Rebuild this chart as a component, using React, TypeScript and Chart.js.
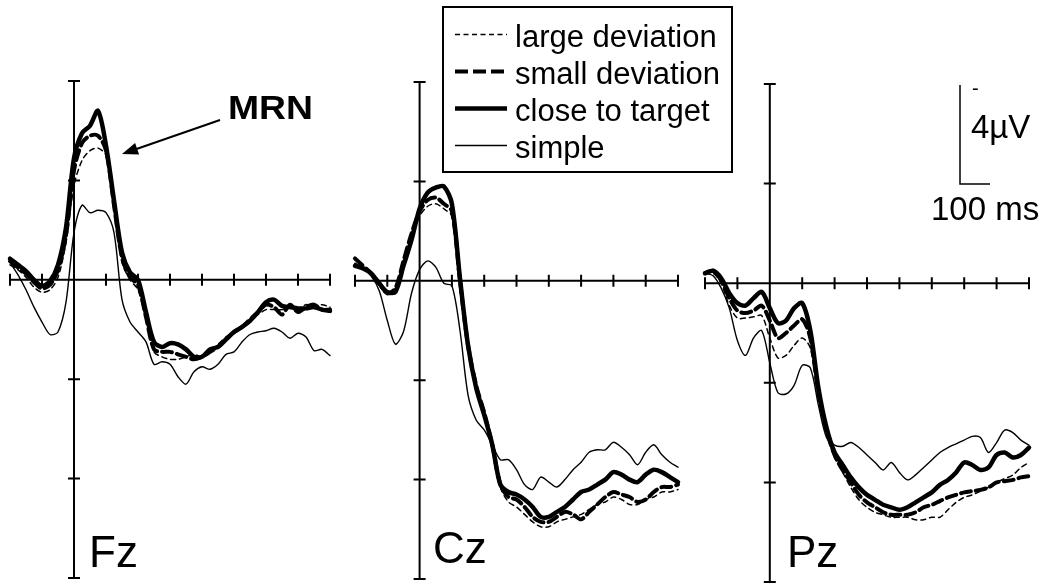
import React, { useEffect, useRef } from "react";
import { Chart, registerables } from "chart.js";

Chart.register(...registerables);

// Time axis (ms, response at 0) and tick positions
const times = [
  -200, -175, -150, -125, -100, -75, -50, -25, 0, 25, 50, 75, 100, 125, 150, 175, 200, 225, 250, 275, 300,
  325, 350, 375, 400, 425, 450, 475, 500, 525, 550, 575, 600, 625, 650, 675, 700, 725, 750, 775, 800,
];
const timeTicks = [-200, -100, 0, 100, 200, 300, 400, 500, 600, 700, 800];
const voltTicks = [-8, -4, 0, 4, 8, 12];

const conditions = ["large deviation", "small deviation", "close to target", "simple"];
const electrodes = ["Fz", "Cz", "Pz"];

// Grand-average amplitudes in µV (negative plotted upward)
const fzLarge = [-0.6, -0.4, -0.1, 0.3, 0.5, 0.4, -0.1, -1.5, -3.8, -4.8, -5.2, -5.3, -5.0, -2.8, -0.7, 0.0, 0.4, 1.6, 2.9, 3.1, 3.2, 3.2, 3.1, 3.0, 3.1, 2.9, 2.6, 2.3, 2.1, 1.9, 1.6, 1.4, 1.2, 1.2, 1.2, 1.1, 1.2, 1.0, 1.1, 1.0, 1.1];
const fzSmall = [-0.75, -0.5, -0.25, 0.1, 0.35, 0.2, -0.4, -1.8, -4.4, -5.5, -5.8, -5.8, -5.2, -3.0, -0.9, -0.1, 0.2, 1.5, 2.8, 2.9, 2.9, 3.0, 3.1, 3.2, 3.1, 2.9, 2.7, 2.4, 2.1, 1.9, 1.6, 1.3, 1.0, 1.1, 1.4, 1.0, 1.3, 1.1, 1.0, 1.2, 1.2];
const fzClose = [-0.85, -0.6, -0.35, 0.0, 0.25, 0.05, -0.6, -2.1, -4.9, -5.9, -6.2, -6.8, -5.4, -3.2, -1.1, -0.3, 0.0, 1.3, 2.5, 2.7, 2.55, 2.6, 2.8, 3.1, 3.1, 2.8, 2.7, 2.4, 2.1, 1.9, 1.65, 1.3, 0.9, 0.8, 1.05, 1.1, 1.15, 1.15, 1.1, 1.2, 1.25];
const fzSimple = [-0.7, -0.2, 0.4, 1.1, 1.7, 2.2, 2.1, 0.9, -1.9, -3.0, -2.7, -2.8, -2.7, -1.9, 0.8, 1.7, 2.1, 2.5, 3.4, 3.3, 3.4, 3.9, 4.2, 3.7, 3.5, 3.6, 3.4, 3.0, 2.9, 2.5, 2.2, 2.1, 2.05, 1.95, 2.1, 2.35, 2.15, 2.3, 2.85, 2.8, 3.05];

const czLarge = [-0.7, -0.5, -0.2, 0.2, 0.55, 0.3, -0.7, -1.7, -2.6, -3.0, -3.1, -2.9, -2.6, 0.1, 2.7, 4.3, 5.4, 6.7, 8.3, 8.9, 9.1, 9.4, 9.7, 9.9, 9.9, 9.7, 9.6, 9.5, 9.4, 9.2, 9.0, 8.9, 8.7, 8.8, 9.0, 9.0, 8.8, 8.7, 8.5, 8.5, 8.4];
const czSmall = [-0.9, -0.6, -0.3, 0.1, 0.5, 0.3, -0.8, -1.9, -2.8, -3.25, -3.35, -3.1, -2.8, 0.0, 2.6, 4.2, 5.3, 6.6, 8.2, 8.7, 8.8, 9.1, 9.5, 9.7, 9.7, 9.5, 9.3, 9.4, 9.6, 9.3, 9.0, 8.7, 8.5, 8.6, 8.7, 8.9, 8.8, 8.5, 8.3, 8.3, 8.2];
const czClose = [-0.6, -0.5, -0.3, 0.1, 0.45, 0.45, -0.6, -1.65, -2.9, -3.55, -3.75, -3.8, -3.1, -0.1, 2.6, 4.3, 5.4, 6.6, 8.2, 8.5, 8.6, 8.8, 9.1, 9.5, 9.5, 9.3, 9.1, 8.8, 8.5, 8.4, 8.2, 8.0, 7.7, 7.8, 8.0, 8.1, 7.8, 7.6, 7.7, 7.9, 8.1];
const czSimple = [-0.7, -0.5, -0.2, 0.4, 1.6, 2.55, 2.05, 0.5, -0.45, -0.8, -0.55, 0.1, 0.2, 2.0, 4.6, 5.6, 6.0, 6.6, 7.2, 7.2, 7.6, 8.2, 8.4, 7.9, 8.1, 8.3, 8.0, 7.6, 7.3, 6.9, 6.8, 6.8, 6.5, 6.7, 7.0, 7.4, 6.9, 6.6, 7.0, 7.3, 7.5];

const pzLarge = [-0.4, -0.4, 0.0, 0.9, 1.4, 1.4, 1.35, 1.3, 2.2, 3.0, 2.9, 2.5, 2.2, 2.6, 4.6, 6.0, 7.0, 7.6, 8.2, 8.7, 9.0, 9.2, 9.3, 9.4, 9.4, 9.4, 9.5, 9.5, 9.4, 9.4, 9.1, 8.8, 8.6, 8.5, 8.35, 8.2, 8.0, 7.85, 7.7, 7.4, 7.2];
const pzSmall = [-0.4, -0.5, -0.1, 0.6, 1.1, 1.2, 1.1, 0.9, 1.5, 2.2, 2.0, 1.7, 1.45, 2.2, 4.4, 5.9, 6.9, 7.5, 8.0, 8.5, 8.8, 9.0, 9.2, 9.3, 9.3, 9.3, 9.2, 9.0, 8.9, 8.75, 8.6, 8.5, 8.4, 8.35, 8.3, 8.2, 8.0, 7.95, 7.9, 7.8, 7.75];
const pzClose = [-0.4, -0.5, -0.2, 0.4, 0.8, 0.9, 0.6, 0.35, 1.0, 1.6, 1.5, 1.0, 0.8, 1.9, 4.2, 5.8, 6.8, 7.3, 7.8, 8.2, 8.5, 8.7, 8.9, 9.0, 9.1, 9.0, 8.8, 8.6, 8.4, 8.1, 7.9, 7.6, 7.2, 7.3, 7.5, 7.4, 6.9, 6.8, 7.0, 6.9, 6.6];
const pzSimple = [-0.4, -0.3, 0.2, 1.0, 2.3, 2.9, 2.2, 1.9, 3.2, 4.4, 4.45, 4.1, 3.3, 3.4, 4.9, 6.2, 6.5, 6.55, 6.4, 6.6, 6.9, 7.2, 7.5, 7.2, 7.6, 7.9, 7.7, 7.4, 7.1, 6.8, 6.6, 6.45, 6.3, 6.15, 6.2, 6.8, 6.4, 5.9, 6.0, 6.3, 6.5];

const panelSeries = [
  [fzLarge, fzSmall, fzClose, fzSimple],
  [czLarge, czSmall, czClose, czSimple],
  [pzLarge, pzSmall, pzClose, pzSimple],
];

// Line appearance per condition
const lineStyles = [
  { width: 1.5, dash: [5, 4], order: 2 },
  { width: 4, dash: [10, 5], order: 1 },
  { width: 4.5, dash: [] as number[], order: 0 },
  { width: 1.4, dash: [] as number[], order: 3 },
];

// Plot areas of the three electrode panels (page pixels)
const PAD = 12;
const panelBoxes = [
  { left: 10, right: 330, top: 81, bottom: 578 },
  { left: 355, right: 678, top: 82, bottom: 579 },
  { left: 705, right: 1029, top: 84, bottom: 582 },
];
const labelPos = [
  { x: 89, y: 567 },
  { x: 433, y: 563 },
  { x: 787, y: 567 },
];

const FONT = "'Liberation Sans', Arial, Helvetica, sans-serif";

// Axes crossing at (0 ms, 0 µV) with ticks through the line
const crossedAxes = {
  id: "crossedAxes",
  beforeDatasetsDraw(chart: any) {
    const { ctx } = chart;
    const xs = chart.scales.x;
    const ys = chart.scales.y;
    const x0 = xs.getPixelForValue(0);
    const y0 = ys.getPixelForValue(0);
    const t = 6;
    ctx.save();
    ctx.strokeStyle = "#000";
    ctx.lineWidth = 2;
    ctx.beginPath();
    ctx.moveTo(xs.getPixelForValue(timeTicks[0]), y0);
    ctx.lineTo(xs.getPixelForValue(timeTicks[timeTicks.length - 1]), y0);
    ctx.moveTo(x0, ys.getPixelForValue(voltTicks[0]));
    ctx.lineTo(x0, ys.getPixelForValue(voltTicks[voltTicks.length - 1]));
    for (const tv of timeTicks) {
      const px = xs.getPixelForValue(tv);
      ctx.moveTo(px, y0 - t);
      ctx.lineTo(px, y0 + t);
    }
    for (const vv of voltTicks) {
      const py = ys.getPixelForValue(vv);
      ctx.moveTo(x0 - t, py);
      ctx.lineTo(x0 + t, py);
    }
    ctx.stroke();
    ctx.restore();
  },
};

function ErpPanel({ index }: { index: number }) {
  const ref = useRef<HTMLCanvasElement | null>(null);
  const box = panelBoxes[index];
  const w = box.right - box.left + 2 * PAD;
  const h = box.bottom - box.top + 2 * PAD;

  useEffect(() => {
    if (!ref.current) return;
    const series = panelSeries[index];
    const chart = new Chart(ref.current, {
      type: "line",
      data: {
        datasets: series.map((vals, i) => ({
          label: conditions[i],
          data: times.map((t, k) => ({ x: t, y: vals[k] })),
          borderColor: "#000",
          backgroundColor: "#000",
          borderWidth: lineStyles[i].width,
          borderDash: lineStyles[i].dash,
          borderCapStyle: "round",
          borderJoinStyle: "round",
          pointRadius: 0,
          tension: 0.3,
          fill: false,
          clip: PAD,
          order: lineStyles[i].order,
        })),
      },
      options: {
        responsive: false,
        animation: false,
        devicePixelRatio: 1,
        events: [],
        layout: { padding: PAD },
        scales: {
          x: { type: "linear", min: timeTicks[0], max: timeTicks[timeTicks.length - 1], display: false },
          y: {
            type: "linear",
            min: voltTicks[0],
            max: voltTicks[voltTicks.length - 1],
            reverse: true,
            display: false,
          },
        },
        plugins: { legend: { display: false }, tooltip: { enabled: false } },
      } as any,
      plugins: [crossedAxes],
    });
    return () => chart.destroy();
  }, [index]);

  return (
    <canvas
      ref={ref}
      width={w}
      height={h}
      style={{ position: "absolute", left: box.left - PAD, top: box.top - PAD, width: w, height: h }}
    />
  );
}

const legendSamples = [
  { width: 1.4, dash: "5 3.5" },
  { width: 4, dash: "13 5" },
  { width: 4.5, dash: "" },
  { width: 1.5, dash: "" },
];

export default function App() {
  return (
    <div
      style={{
        position: "absolute",
        left: 0,
        top: 0,
        width: 1046,
        height: 584,
        background: "#fff",
        overflow: "hidden",
      }}
    >
      {electrodes.map((_, i) => (
        <ErpPanel key={i} index={i} />
      ))}
      <svg
        width={1046}
        height={584}
        style={{ position: "absolute", left: 0, top: 0, pointerEvents: "none" }}
        fontFamily={FONT}
      >
        {/* electrode labels */}
        {electrodes.map((name, i) => (
          <text key={name} x={labelPos[i].x} y={labelPos[i].y} fontSize={44} fill="#000">
            {name}
          </text>
        ))}

        {/* legend */}
        <rect x={443} y={7} width={289} height={165} fill="none" stroke="#000" strokeWidth={2} />
        {conditions.map((c, i) => (
          <g key={c}>
            <line
              x1={455}
              x2={507}
              y1={34.5 + i * 37}
              y2={34.5 + i * 37}
              stroke="#000"
              strokeWidth={legendSamples[i].width}
              strokeDasharray={legendSamples[i].dash || undefined}
            />
            <text x={515} y={47 + i * 37} fontSize={31} fill="#000">
              {c}
            </text>
          </g>
        ))}

        {/* MRN annotation */}
        <text x={228} y={119} fontSize={34} fontWeight="bold" fill="#000" textLength={85} lengthAdjust="spacingAndGlyphs">
          MRN
        </text>
        <line x1={220} y1={120} x2={135} y2={149.5} stroke="#000" strokeWidth={2} />
        <polygon points="122,154 139.1,154.4 135.1,143.1" fill="#000" />

        {/* calibration bar */}
        <polyline points="960,85 960,184 990,184" fill="none" stroke="#000" strokeWidth={1.5} />
        <text x={972} y={95} fontSize={20} fill="#000">
          -
        </text>
        <text x={971} y={138} fontSize={33} fill="#000">
          4µV
        </text>
        <text x={931} y={220} fontSize={33} fill="#000">
          100 ms
        </text>
      </svg>
    </div>
  );
}
